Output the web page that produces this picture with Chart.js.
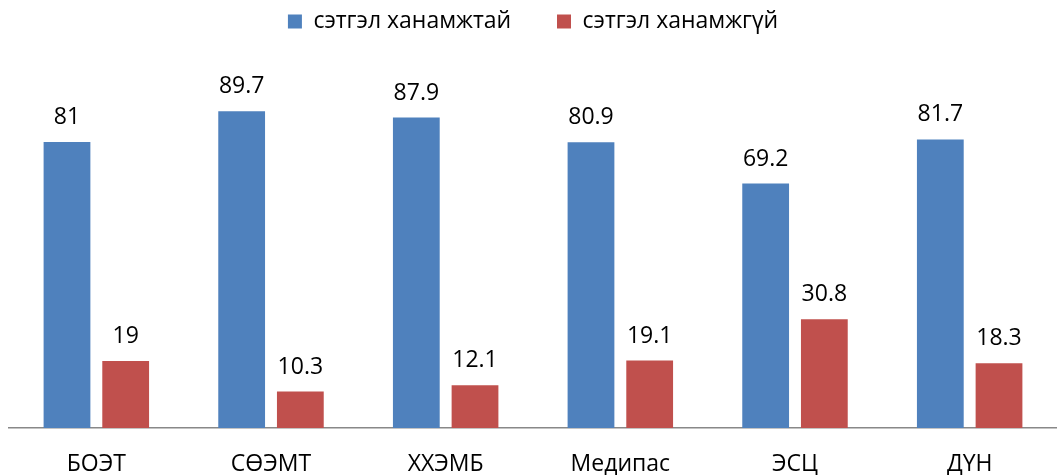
<!DOCTYPE html>
<html>
<head>
<meta charset="utf-8">
<script src="https://cdn.jsdelivr.net/npm/chart.js@4.4.1/dist/chart.umd.min.js"></script>
<style>
    html, body { margin: 0; padding: 0; background: #fff; }
    #wrap { width: 1057px; height: 475px; }
</style>
</head>
<body>
<div id="wrap"><canvas id="chart"></canvas></div>
<script>
const categories = ['БОЭТ', 'СӨЭМТ', 'ХХЭМБ', 'Медипас', 'ЭСЦ', 'ДҮН'];
const satisfied = [81, 89.7, 87.9, 80.9, 69.2, 81.7];
const unsatisfied = [19, 10.3, 12.1, 19.1, 30.8, 18.3];
const seriesNames = ['сэтгэл ханамжтай', 'сэтгэл ханамжгүй'];

const fontFamily = "'Open Sans', 'Liberation Sans', sans-serif";

// draws the value above every bar
const valueLabels = {
    id: 'valueLabels',
    afterDatasetsDraw(chart) {
        const ctx = chart.ctx;
        ctx.save();
        ctx.font = '23px ' + fontFamily;
        ctx.fillStyle = '#000';
        ctx.textAlign = 'center';
        ctx.textBaseline = 'alphabetic';
        chart.data.datasets.forEach((ds, i) => {
            chart.getDatasetMeta(i).data.forEach((bar, j) => {
                ctx.fillText(String(ds.data[j]), bar.x, bar.y - 18);
            });
        });
        ctx.restore();
    }
};

new Chart(document.getElementById('chart'), {
    type: 'bar',
    data: {
        labels: categories,
        datasets: [{
            label: seriesNames[0] + '      ',
            data: satisfied,
            backgroundColor: '#4F81BD',
            categoryPercentage: 0.672,
            barPercentage: 0.797
        }, {
            label: seriesNames[1],
            data: unsatisfied,
            backgroundColor: '#C0504D',
            categoryPercentage: 0.672,
            barPercentage: 0.797
        }]
    },
    options: {
        responsive: true,
        maintainAspectRatio: false,
        animation: false,
        layout: {
            padding: { left: 9, right: 0, top: 0, bottom: 0 }
        },
        scales: {
            x: {
                grid: { display: false, drawTicks: false },
                border: { display: true, color: '#888888', width: 1.5 },
                ticks: {
                    color: '#000',
                    padding: 23,
                    font: { family: fontFamily, size: 23 }
                },
                afterFit(scale) {
                    scale.height = 47;
                }
            },
            y: {
                display: false,
                min: 0,
                max: 109
            }
        },
        plugins: {
            legend: {
                position: 'top',
                labels: {
                    color: '#000',
                    boxWidth: 14,
                    boxHeight: 14,
                    padding: 10,
                    font: { family: fontFamily, size: 23 }
                }
            },
            tooltip: { enabled: false }
        }
    },
    plugins: [valueLabels]
});
</script>
</body>
</html>
